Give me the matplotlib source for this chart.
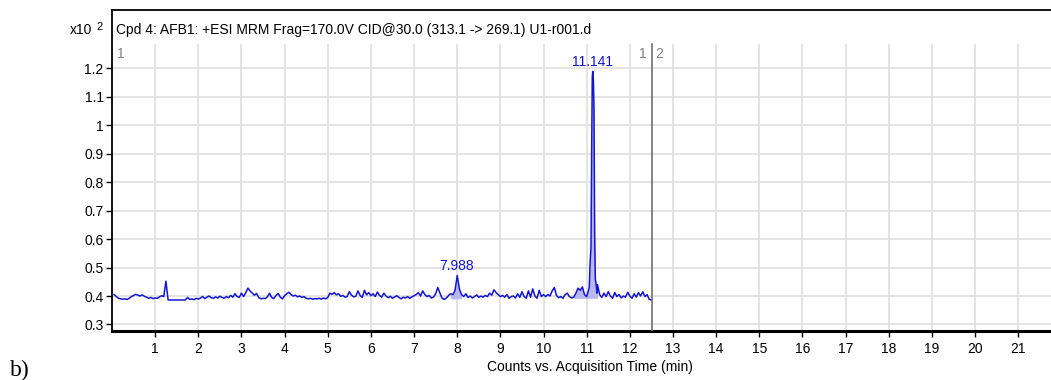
import numpy as np
import matplotlib
matplotlib.use("Agg")
import matplotlib.pyplot as plt

W, H = 1051, 380
DPI = 100

# baseline trace, one row per minute, 0.05 min steps (x100 counts)
counts = [
    0.405, 0.398, 0.392, 0.390, 0.389, 0.390, 0.388, 0.392, 0.398, 0.402, 0.406, 0.403, 0.400, 0.404, 0.399, 0.396, 0.392, 0.395, 0.391, 0.393,
    0.392, 0.397, 0.401, 0.398, 0.452, 0.386, 0.386, 0.386, 0.386, 0.386, 0.386, 0.386, 0.386, 0.386, 0.395, 0.388, 0.390, 0.387, 0.392, 0.389,
    0.393, 0.398, 0.391, 0.396, 0.400, 0.394, 0.392, 0.397, 0.393, 0.399, 0.395, 0.392, 0.398, 0.394, 0.402, 0.396, 0.408, 0.398, 0.395, 0.410,
    0.398, 0.412, 0.428, 0.418, 0.410, 0.403, 0.409, 0.395, 0.390, 0.392, 0.391, 0.397, 0.410, 0.395, 0.391, 0.402, 0.409, 0.396, 0.390, 0.401,
    0.408, 0.413, 0.405, 0.400, 0.403, 0.397, 0.400, 0.395, 0.398, 0.392, 0.390, 0.392, 0.389, 0.391, 0.390, 0.392, 0.389, 0.393, 0.390, 0.395,
    0.410, 0.406, 0.412, 0.404, 0.408, 0.399, 0.402, 0.396, 0.398, 0.415, 0.403, 0.397, 0.399, 0.418, 0.402, 0.395, 0.420, 0.404, 0.412, 0.401,
    0.408, 0.398, 0.414, 0.402, 0.396, 0.410, 0.400, 0.394, 0.399, 0.392, 0.397, 0.401, 0.395, 0.390, 0.396, 0.393, 0.398, 0.392, 0.397, 0.401,
    0.405, 0.412, 0.400, 0.418, 0.405, 0.398, 0.402, 0.393, 0.396, 0.408, 0.430, 0.410, 0.392, 0.388, 0.393, 0.402, 0.408, 0.405, 0.420, 0.472,
    0.425, 0.405, 0.398, 0.408, 0.395, 0.400, 0.393, 0.398, 0.404, 0.395, 0.400, 0.396, 0.402, 0.398, 0.410, 0.403, 0.422, 0.412, 0.405, 0.398,
    0.402, 0.396, 0.405, 0.392, 0.398, 0.400, 0.393, 0.408, 0.395, 0.415, 0.398, 0.392, 0.418, 0.396, 0.425, 0.400, 0.392, 0.420, 0.398, 0.405,
    0.398, 0.405, 0.400, 0.418, 0.430, 0.402, 0.394, 0.398, 0.392, 0.405, 0.410, 0.398, 0.393, 0.396, 0.410, 0.428, 0.420, 0.432, 0.405, 0.398,
    0.420, 0.600, 1.190, 0.700, 0.440, 0.405, 0.395, 0.410, 0.398, 0.415, 0.400, 0.392, 0.412, 0.398, 0.405, 0.393, 0.400, 0.396, 0.413, 0.400,
    0.392, 0.408, 0.396, 0.412, 0.400, 0.415, 0.398, 0.405, 0.388, 0.386,
]
times = np.round(np.arange(1, len(counts) + 1) * 0.05, 2)

# finer sampling around the main peak
pk_t = [11.06, 11.08, 11.10, 11.115, 11.13, 11.141, 11.155, 11.17, 11.185, 11.20, 11.22, 11.24]
pk_y = [0.43, 0.52, 0.57, 0.90, 1.17, 1.19, 1.16, 1.05, 0.62, 0.46, 0.44, 0.41]

peaks = [7.988, 11.141]
peak_tops = [0.472, 1.19]
integrated = [(7.85, 8.10, 0.390), (10.70, 11.25, 0.392)]
segment_split = 12.52

counts = np.array(counts)
keep = (times < 11.05) | (times > 11.245)
t = np.concatenate([times[keep], pk_t])
y = np.concatenate([counts[keep], pk_y])
order = np.argsort(t)
t, y = t[order], y[order]

plt.rcParams['font.family'] = ['Liberation Sans', 'DejaVu Sans']

fig = plt.figure(figsize=(W / DPI, H / DPI), dpi=DPI)
ax = fig.add_axes([112 / W, 1 - 331 / H, 1 - 112 / W, (331 - 10) / H])

blue = '#1414d2'
grid_top = 1.286
ax.set_xlim(0, 21.76)
ax.set_ylim(0.277, 1.4056)

xt = np.arange(1, 22)
yt = np.round(np.arange(0.3, 1.21, 0.1), 1)
for v in yt:
    ax.plot([0, 21.76], [v, v], color='#e2e2e2', lw=1.3, zorder=0)
ax.vlines(xt, 0.277, grid_top, color='#e2e2e2', lw=1.3, zorder=0)

for a, b, base in integrated:
    m = (t >= a) & (t <= b)
    ax.fill_between(t[m], base, y[m], color='#b8b8ee', lw=0, zorder=1)
ax.plot(t, y, color=blue, lw=1.1, zorder=2)

for p, top in zip(peaks, peak_tops):
    ax.annotate('%.3f' % p, (p, top), xytext=(0, 1.5), textcoords='offset points',
                ha='center', va='bottom', color=blue, fontsize=10)

ax.plot([segment_split, segment_split], [0.277, grid_top], color='#707070', lw=1.2, zorder=3)
ax.text(0.12, 1.251, '1', color='#808080', fontsize=10, va='center', ha='left')
ax.text(segment_split - 0.12, 1.251, '1', color='#808080', fontsize=10, va='center', ha='right')
ax.text(segment_split + 0.08, 1.251, '2', color='#808080', fontsize=10, va='center', ha='left')

ax.set_xticks(xt)
ax.set_xticklabels([str(v) for v in xt])
ax.set_yticks(yt)
ax.set_yticklabels(['%g' % v for v in yt])
ax.tick_params(axis='both', labelsize=10, colors='black', width=1, length=4)
ax.tick_params(axis='x', pad=4)
ax.tick_params(axis='y', pad=2)

ax.spines['right'].set_visible(False)
ax.spines['left'].set_linewidth(1.3)
ax.spines['top'].set_linewidth(1.3)
ax.spines['bottom'].set_linewidth(2.2)

ax.text(4 / W, (331 - 23) / 321, 'Cpd 4: AFB1: +ESI MRM Frag=170.0V CID@30.0 (313.1 -> 269.1) U1-r001.d',
        transform=ax.transAxes, fontsize=10, va='top', ha='left')

fig.text(92 / W, 1 - 30 / H, 'x10', fontsize=10, ha='right', va='center')
fig.text(96 / W, 1 - 27 / H, '2', fontsize=8, ha='left', va='center')

fig.text(590 / W, 1 - 367 / H, 'Counts vs. Acquisition Time (min)', fontsize=10, ha='center', va='center')
fig.text(10 / W, 1 - 376 / H, 'b)', family='Liberation Serif', fontsize=17, ha='left', va='baseline')

fig.savefig('out.png', dpi=DPI)
plt.close()
